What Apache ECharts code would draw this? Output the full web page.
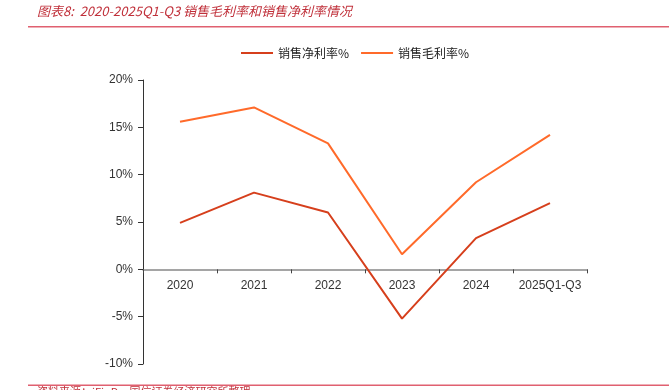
<!DOCTYPE html>
<html><head><meta charset="utf-8">
<script src="https://cdn.jsdelivr.net/npm/echarts@6/dist/echarts.min.js"></script>
<style>html,body{margin:0;padding:0;background:#fff}#c{width:669px;height:390px}</style>
</head><body><div id="c"></div>
<script>
var categories = ['2020','2021','2022','2023','2024','2025Q1-Q3'];
var netMargin = [4.9, 8.1, 6.0, -5.2, 3.3, 7.0];
var grossMargin = [15.6, 17.1, 13.3, 1.6, 9.2, 14.2];
var yTicks = {min: -10, max: 20, interval: 5};

var chart = echarts.init(document.getElementById('c'), null, {renderer: 'canvas'});
var cjk = '"Noto Sans CJK SC", "Noto Sans", sans-serif';
var num = '"Liberation Sans", Arial, sans-serif';
var gridTop = 80, gridBottom = 26, H = 390;
var plotH = H - gridTop - gridBottom;
var zeroOffset = -plotH * (0 - yTicks.min) / (yTicks.max - yTicks.min);
chart.setOption({
  animation: false,
  graphic: [
    {type: 'text', left: 37, top: 5, style: {text: '图表8:  2020-2025Q1-Q3 销售毛利率和销售净利率情况', font: 'italic 13px ' + cjk, fill: '#C0303A'}},
    {type: 'rect', shape: {x: 28, y: 26, width: 641, height: 1.5}, style: {fill: '#E06070'}},
    {type: 'rect', shape: {x: 28, y: 384.5, width: 641, height: 1.5}, style: {fill: '#E06070'}},
    {type: 'text', left: 37, top: 386, style: {text: '资料来源：iFinD，国信证券经济研究所整理', font: '11px ' + cjk, fill: '#C0303A'}}
  ],
  legend: {
    top: 42, left: 236, itemWidth: 32, itemHeight: 2, itemGap: 12,
    icon: 'rect',
    textStyle: {fontSize: 12, color: '#222', fontFamily: cjk},
    data: ['销售净利率%', '销售毛利率%']
  },
  grid: {left: 143, right: 82, top: gridTop, bottom: gridBottom, containLabel: false},
  xAxis: {
    type: 'category', data: categories, boundaryGap: true,
    position: 'bottom', offset: zeroOffset,
    axisLine: {onZero: false, lineStyle: {color: '#888', width: 1.5}},
    axisTick: {show: true, interval: 0, length: 4, lineStyle: {color: '#444'}},
    axisLabel: {interval: 0, color: '#333', fontSize: 12, margin: 10, fontFamily: num}
  },
  yAxis: {
    type: 'value', min: yTicks.min, max: yTicks.max, interval: yTicks.interval,
    axisLine: {show: true, lineStyle: {color: '#333'}},
    axisTick: {show: true, length: 5, lineStyle: {color: '#333'}},
    splitLine: {show: false},
    axisLabel: {color: '#333', fontSize: 12, margin: 10, formatter: '{value}%', fontFamily: num}
  },
  series: [
    {name: '销售净利率%', type: 'line', data: netMargin, symbol: 'none', lineStyle: {color: '#D63F1C', width: 2}, itemStyle: {color: '#D63F1C'}},
    {name: '销售毛利率%', type: 'line', data: grossMargin, symbol: 'none', lineStyle: {color: '#FF6A2A', width: 2}, itemStyle: {color: '#FF6A2A'}}
  ]
});
</script></body></html>
